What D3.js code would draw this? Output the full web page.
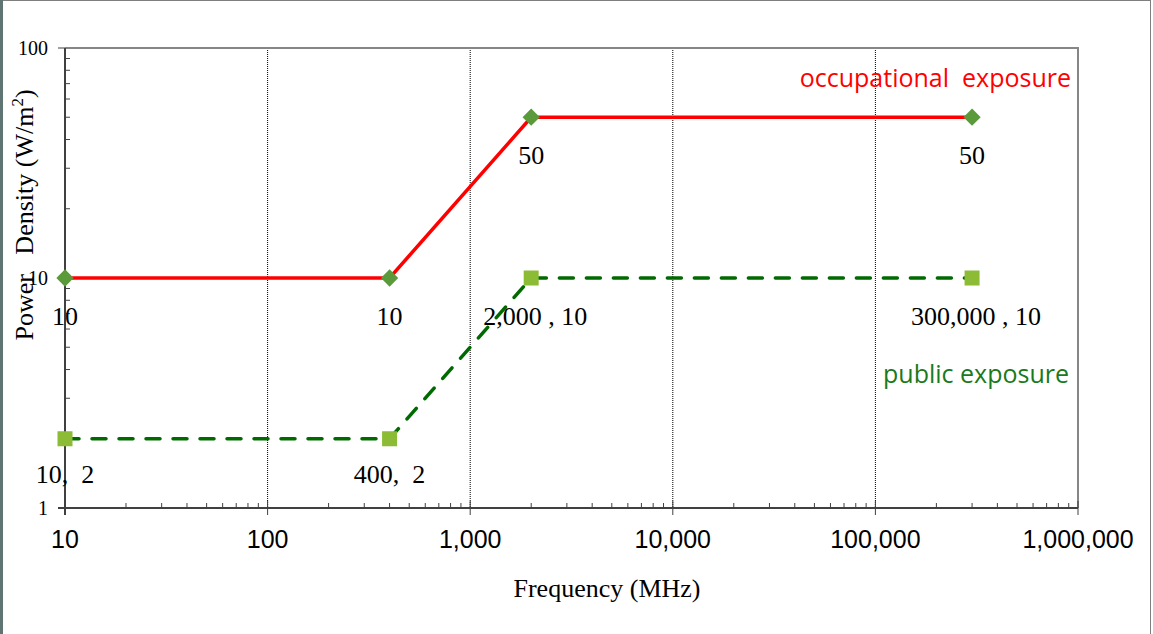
<!DOCTYPE html>
<html>
<head>
<meta charset="utf-8">
<script src="https://cdn.jsdelivr.net/npm/d3@7"></script>
<style>
  body { margin: 0; background: #fff; }
  svg { display: block; }
</style>
</head>
<body>
<svg id="chart" width="1153" height="634"></svg>
<script>
// series data
var freqs = [10, 400, 2000, 300000];
var occupational = [10, 10, 50, 50];
var publicExp = [2, 2, 10, 10];
var occLabels = ["10", "10", "50", "50"];
var pubLabels = ["10,  2", "400,  2", "2,000 , 10", "300,000 , 10"];
var xTicks = [10, 100, 1000, 10000, 100000, 1000000];
var yTicks = [1, 10, 100];

var svg = d3.select("#chart");
var W = 1153, H = 634;
var margin = {left: 65, right: 75, top: 48, bottom: 126};
var serif = "Liberation Serif, Times New Roman, serif";
var sans = "Liberation Sans, Arial, sans-serif";

// outer frame
svg.append("rect").attr("x", 0.5).attr("y", 0.5).attr("width", W - 3).attr("height", H + 4)
    .attr("fill", "none").attr("stroke", "#7f7f7f").attr("stroke-width", 1);
svg.append("rect").attr("x", 0).attr("y", 0).attr("width", 3).attr("height", H).attr("fill", "#5e7574");

var x = d3.scaleLog().domain([10, 1000000]).range([margin.left, W - margin.right]);
var y = d3.scaleLog().domain([1, 100]).range([H - margin.bottom, margin.top]);

var x0 = x.range()[0], x1 = x.range()[1];
var y0 = y.range()[0], y1 = y.range()[1];

// vertical dotted grid at decades
svg.append("g").selectAll("line")
    .data(xTicks.slice(1, -1))
    .join("line")
    .attr("x1", d => x(d)).attr("x2", d => x(d))
    .attr("y1", y1).attr("y2", y0)
    .attr("stroke", "#000").attr("stroke-width", 1)
    .attr("stroke-dasharray", "1,1");

// top and right border of plot area
svg.append("path")
    .attr("d", "M" + x0 + "," + y1 + "H" + x1 + "V" + y0)
    .attr("fill", "none").attr("stroke", "#868686").attr("stroke-width", 2);

// x axis
var xMinor = [];
for (var e = 1; e < 6; e++) {
    for (var m = 2; m < 10; m++) xMinor.push(m * Math.pow(10, e));
}
svg.append("g").selectAll("line.minor")
    .data(xMinor).join("line")
    .attr("x1", d => x(d)).attr("x2", d => x(d))
    .attr("y1", y0).attr("y2", y0 - 5)
    .attr("stroke", "#404040").attr("stroke-width", 1);
svg.append("g").selectAll("line.major")
    .data(xTicks).join("line")
    .attr("x1", d => x(d)).attr("x2", d => x(d))
    .attr("y1", y0 - 7).attr("y2", y0 + 7)
    .attr("stroke", "#404040").attr("stroke-width", 1);
svg.append("line").attr("x1", x0 - 7).attr("x2", x1).attr("y1", y0).attr("y2", y0)
    .attr("stroke", "#404040").attr("stroke-width", 2);
svg.append("g").selectAll("text")
    .data(xTicks).join("text")
    .attr("x", d => x(d)).attr("y", y0 + 40)
    .attr("text-anchor", "middle")
    .attr("font-family", sans)
    .attr("font-size", 25).attr("fill", "#000")
    .text(d => d3.format(",")(d));

// y axis
var yMinor = [];
for (var e2 = 0; e2 < 2; e2++) {
    for (var m2 = 2; m2 < 10; m2++) yMinor.push(m2 * Math.pow(10, e2));
}
svg.append("g").selectAll("line")
    .data(yMinor).join("line")
    .attr("x1", x0).attr("x2", x0 + 5)
    .attr("y1", d => y(d)).attr("y2", d => y(d))
    .attr("stroke", "#404040").attr("stroke-width", 1);
svg.append("g").selectAll("line")
    .data(yTicks).join("line")
    .attr("x1", x0 - 7).attr("x2", x0)
    .attr("y1", d => y(d)).attr("y2", d => y(d))
    .attr("stroke", "#404040").attr("stroke-width", 1);
svg.append("line").attr("x1", x0).attr("x2", x0).attr("y1", y1).attr("y2", y0 + 7)
    .attr("stroke", "#404040").attr("stroke-width", 2);
svg.append("g").selectAll("text")
    .data(yTicks).join("text")
    .attr("x", x0 - 17).attr("y", d => y(d) + 7)
    .attr("text-anchor", "end")
    .attr("font-family", serif)
    .attr("font-size", 20).attr("fill", "#000")
    .text(d => d);

// axis titles
svg.append("text")
    .attr("x", 607).attr("y", 597)
    .attr("text-anchor", "middle")
    .attr("font-family", serif)
    .attr("font-size", 26)
    .text("Frequency (MHz)");
var yt = svg.append("text")
    .attr("transform", "translate(33,215) rotate(-90)")
    .attr("text-anchor", "middle")
    .attr("font-family", serif)
    .attr("font-size", 26)
    .attr("xml:space", "preserve");
yt.append("tspan").text("Power   Density (W/m");
yt.append("tspan").attr("dy", -10).attr("font-size", 17).text("2");
yt.append("tspan").attr("dy", 10).text(")");

// series
var line = d3.line().x(d => x(d[0])).y(d => y(d[1]));
var occData = freqs.map((f, i) => [f, occupational[i]]);
var pubData = freqs.map((f, i) => [f, publicExp[i]]);

svg.append("path").datum(pubData)
    .attr("d", line).attr("fill", "none")
    .attr("stroke", "#006a00").attr("stroke-width", 3.5)
    .attr("stroke-dasharray", "14,13").attr("stroke-linecap", "round");
svg.append("path").datum(occData)
    .attr("d", line).attr("fill", "none")
    .attr("stroke", "#ff0000").attr("stroke-width", 3.5);

svg.append("g").selectAll("rect")
    .data(pubData).join("rect")
    .attr("x", d => x(d[0]) - 7.5).attr("y", d => y(d[1]) - 7.5)
    .attr("width", 15).attr("height", 15)
    .attr("fill", "#8cbb35");
svg.append("g").selectAll("path")
    .data(occData).join("path")
    .attr("transform", d => "translate(" + x(d[0]) + "," + y(d[1]) + ")")
    .attr("d", d3.symbol().type(d3.symbolDiamond2).size(190))
    .attr("fill", "#5a9a3a");

// data labels
svg.append("g").selectAll("text")
    .data(occData).join("text")
    .attr("x", d => x(d[0])).attr("y", d => y(d[1]) + 47)
    .attr("text-anchor", "middle")
    .attr("font-family", serif).attr("font-size", 26)
    .text((d, i) => occLabels[i]);
svg.append("g").selectAll("text")
    .data(pubData).join("text")
    .attr("x", (d, i) => x(d[0]) + (i >= 2 ? 4 : 0))
    .attr("y", (d, i) => y(d[1]) + (i >= 2 ? 47 : 44))
    .attr("text-anchor", "middle")
    .attr("xml:space", "preserve")
    .attr("font-family", serif).attr("font-size", 26)
    .text((d, i) => pubLabels[i]);

// series names
svg.append("text")
    .attr("x", 1071).attr("y", 87)
    .attr("text-anchor", "end")
    .attr("xml:space", "preserve")
    .attr("font-family", "Open Sans, Liberation Sans, sans-serif")
    .attr("font-size", 25).attr("fill", "#ff0000")
    .text("occupational  exposure");
svg.append("text")
    .attr("x", 1069).attr("y", 383)
    .attr("text-anchor", "end")
    .attr("font-family", "Open Sans, Liberation Sans, sans-serif")
    .attr("font-size", 25).attr("fill", "#1a7a1a")
    .text("public exposure");
</script>
</body>
</html>
